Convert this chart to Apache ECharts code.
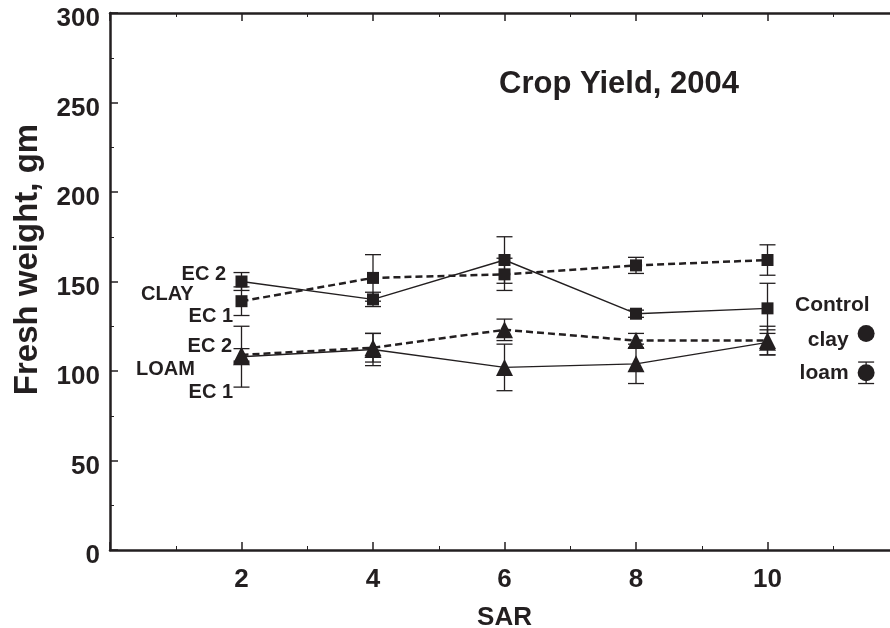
<!DOCTYPE html>
<html>
<head>
<meta charset="utf-8">
<script src="https://cdn.jsdelivr.net/npm/echarts@6/dist/echarts.min.js"></script>
<style>html,body{margin:0;padding:0;background:#fff}#c{width:890px;height:628px}</style>
</head>
<body>
<div id="c"></div>
<script>
// ---- data ----
const sar = [2, 4, 6, 8, 10];
const claySolid = [150, 140, 162, 132, 135];
const claySolidErr = [5, 4, 13, 2, 14];
const clayDashed = [139, 152, 154, 159, 162];
const clayDashedErr = [8, 13, 9, 4.5, 8.5];
const loamSolid = [108, 112, 102, 104, 116];
const loamSolidErr = [17, 9, 13, 11, 7];
const loamDashed = [109, 113, 123, 117, 117];
const loamDashedErr = [3.5, 8, 6, 4, 8];
const controlX = 11.5;
const controlClay = 121;
const controlLoam = 99;
const controlLoamErr = 6;
const xTicks = [2, 4, 6, 8, 10];
const yTicks = [0, 50, 100, 150, 200, 250, 300];

const INK = '#231f20';
const FONT = 'Liberation Sans, Arial, sans-serif';

function pts(vals) { return sar.map((x, i) => [x, vals[i]]); }
function errData(vals, errs) { return sar.map((x, i) => [x, vals[i] - errs[i], vals[i] + errs[i]]); }
function errSeries(data) {
  return {
    type: 'custom', z: 1,
    data: data,
    renderItem: function (params, api) {
      const x = api.value(0);
      const lo = api.coord([x, api.value(1)]);
      const hi = api.coord([x, api.value(2)]);
      const w = 8;
      const st = { stroke: INK, lineWidth: 1.3 };
      return { type: 'group', children: [
        { type: 'line', shape: { x1: lo[0], y1: lo[1], x2: hi[0], y2: hi[1] }, style: st },
        { type: 'line', shape: { x1: lo[0] - w, y1: lo[1], x2: lo[0] + w, y2: lo[1] }, style: st },
        { type: 'line', shape: { x1: hi[0] - w, y1: hi[1], x2: hi[0] + w, y2: hi[1] }, style: st }
      ]};
    }
  };
}
function lineSeries(name, vals, symbol, size, dashed) {
  return {
    name: name, type: 'line', data: pts(vals), z: 3,
    symbol: symbol, symbolSize: size,
    itemStyle: { color: INK, opacity: 1 },
    lineStyle: { color: INK, width: dashed ? 2.5 : 1.4, type: dashed ? [7, 4] : 'solid' }
  };
}

const chart = echarts.init(document.getElementById('c'), null, { renderer: 'canvas' });
const axisCommon = {
  axisLine: { lineStyle: { color: INK, width: 2.5 } },
  axisTick: { inside: true, length: 8, lineStyle: { color: INK, width: 1.5 } },
  minorTick: { show: true, splitNumber: 2, length: 4, lineStyle: { color: INK, width: 1 } },
  splitLine: { show: false }
};
chart.setOption({
  animation: false,
  backgroundColor: '#fff',
  textStyle: { fontFamily: FONT },
  title: {
    text: 'Crop Yield, 2004', left: 494, top: 64,
    textStyle: { fontFamily: FONT, fontSize: 31, fontWeight: 'bold', color: INK }
  },
  grid: { left: 110, right: -9, top: 13, bottom: 78, containLabel: false, outerBoundsMode: 'none' },
  xAxis: [
    Object.assign({
      type: 'value', min: 0, max: 12, interval: 2, position: 'bottom',
      name: 'SAR', nameLocation: 'middle', nameGap: 55,
      nameTextStyle: { fontFamily: FONT, fontSize: 26, fontWeight: 'bold', color: INK },
      axisLabel: {
        margin: 17, fontFamily: FONT, fontSize: 26, fontWeight: 'bold', color: INK,
        formatter: v => (xTicks.indexOf(v) >= 0 ? String(v) : '')
      }
    }, axisCommon),
    Object.assign({
      type: 'value', min: 0, max: 12, interval: 2, position: 'top',
      axisLabel: { show: false }
    }, axisCommon)
  ],
  yAxis: [
    Object.assign({
      type: 'value', min: 0, max: 300, interval: 50,
      name: 'Fresh weight, gm', nameLocation: 'middle', nameGap: 66,
      nameTextStyle: { fontFamily: FONT, fontSize: 33, fontWeight: 'bold', color: INK, padding: [0, 0, 0, 44] },
      axisLabel: {
        margin: 10, fontFamily: FONT, fontSize: 26, fontWeight: 'bold', color: INK,
        verticalAlign: 'top', lineHeight: 12,
        formatter: v => (yTicks.indexOf(v) >= 0 ? String(v) : '')
      }
    }, axisCommon)
  ],
  graphic: [
    { type: 'text', right: 890 - 226, top: 264, style: { text: 'EC 2', font: 'bold 20px ' + FONT, fill: INK } },
    { type: 'text', left: 141, top: 284, style: { text: 'CLAY', font: 'bold 20px ' + FONT, fill: INK } },
    { type: 'text', right: 890 - 233, top: 306, style: { text: 'EC 1', font: 'bold 20px ' + FONT, fill: INK } },
    { type: 'text', right: 890 - 232, top: 336, style: { text: 'EC 2', font: 'bold 20px ' + FONT, fill: INK } },
    { type: 'text', left: 136, top: 359, style: { text: 'LOAM', font: 'bold 20px ' + FONT, fill: INK } },
    { type: 'text', right: 890 - 233, top: 382, style: { text: 'EC 1', font: 'bold 20px ' + FONT, fill: INK } },
    { type: 'text', left: 795, top: 295, style: { text: 'Control', font: 'bold 21px ' + FONT, fill: INK } }
  ],
  series: [
    errSeries(errData(claySolid, claySolidErr)),
    errSeries(errData(clayDashed, clayDashedErr)),
    errSeries(errData(loamSolid, loamSolidErr)),
    errSeries(errData(loamDashed, loamDashedErr)),
    errSeries([[controlX, controlLoam - controlLoamErr, controlLoam + controlLoamErr]]),
    lineSeries('Clay solid', claySolid, 'rect', 12, false),
    lineSeries('Clay dashed', clayDashed, 'rect', 12, true),
    lineSeries('Loam solid', loamSolid, 'triangle', 17, false),
    lineSeries('Loam dashed', loamDashed, 'triangle', 17, true),
    {
      type: 'scatter', z: 3, symbol: 'circle', symbolSize: 17,
      itemStyle: { color: INK, opacity: 1 },
      data: [
        { value: [controlX, controlClay], label: { formatter: 'clay', offset: [7, 7] } },
        { value: [controlX, controlLoam], label: { formatter: 'loam', offset: [7, 0] } }
      ],
      label: { show: true, position: 'left', distance: 16, fontFamily: FONT, fontSize: 21, fontWeight: 'bold', color: INK, opacity: 1 }
    }
  ]
});
</script>
</body>
</html>
